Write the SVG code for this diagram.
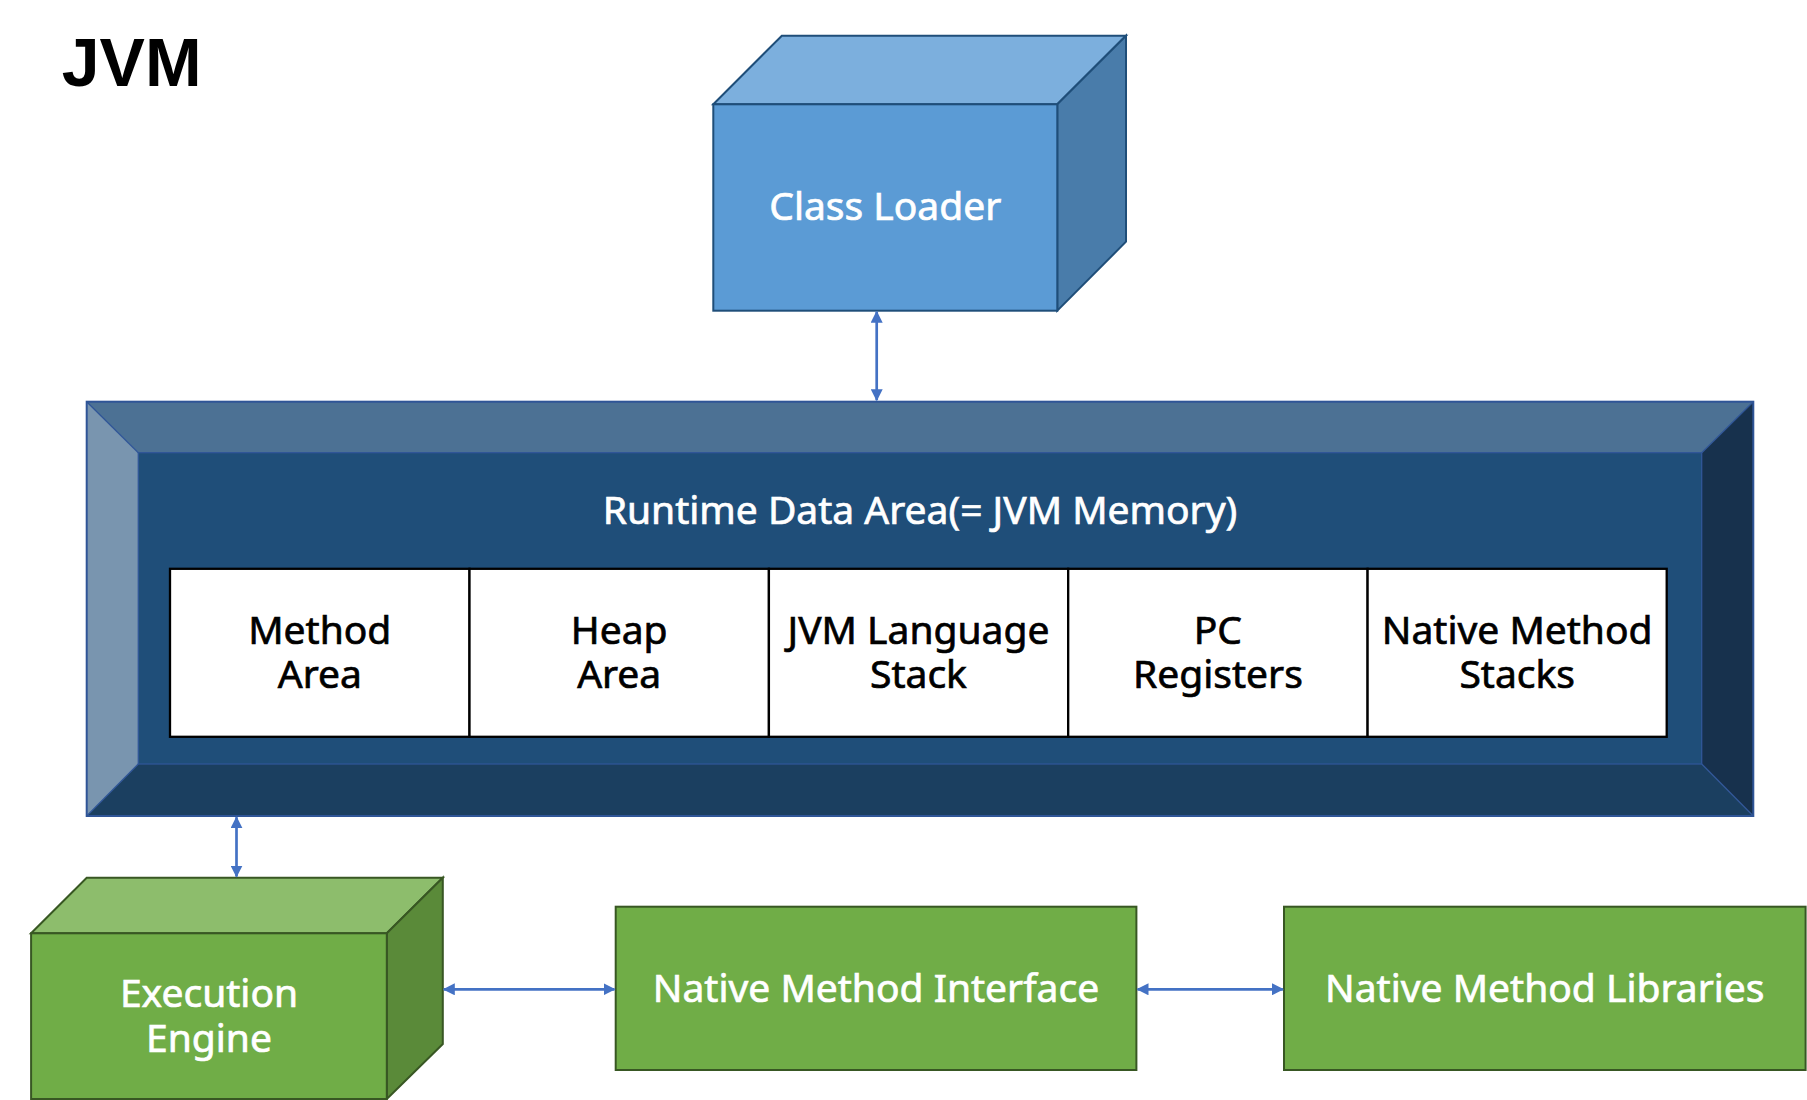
<svg xmlns="http://www.w3.org/2000/svg" width="1807" height="1100" viewBox="0 0 1807 1100">
<defs>
<style>
.t{font-family:"Noto Sans","Open Sans","Liberation Sans",sans-serif;font-size:39px;text-anchor:middle;stroke-width:0.7px}
.w{fill:#ffffff;stroke:#ffffff}
.k{fill:#000000;stroke:#000000}
.conn{stroke:#4472C4;stroke-width:2.7;fill:none;marker-start:url(#ah);marker-end:url(#ah)}
.cellbox{fill:#ffffff;stroke:#000000;stroke-width:2.3}
.bl{stroke:#1F4E79;stroke-width:2;stroke-linejoin:miter}
.gr{stroke:#385723;stroke-width:2;stroke-linejoin:miter}
.rd{stroke:#2F5597;stroke-width:1.3;stroke-linejoin:miter}
</style>
<marker id="ah" viewBox="0 0 12 12" refX="11" refY="6" markerWidth="12" markerHeight="12" markerUnits="userSpaceOnUse" orient="auto-start-reverse">
<path d="M0,0 L12,6 L0,12 Z" fill="#4472C4"/>
</marker>
</defs>
<rect width="1807" height="1100" fill="#ffffff"/>

<g id="title">
<text x="131.7" y="85.7" style="font-family:'Liberation Sans','Noto Sans',sans-serif;font-size:68px;font-weight:bold;text-anchor:middle" fill="#000000">JVM</text>
</g>

<g id="class-loader">
<polygon class="bl" points="713.3,104.3 781.8,35.7 1126,35.7 1057.3,104.3" fill="#7CAFDD"/>
<polygon class="bl" points="1057.3,104.3 1126,35.7 1126,241.7 1057.3,310.7" fill="#497CAA"/>
<rect class="bl" x="713.3" y="104.3" width="344" height="206.4" fill="#5B9BD5"/>
<text class="t w" x="885.3" y="220">Class Loader</text>
</g>

<g id="runtime-data-area">
<polygon points="86.7,401.7 1753.3,401.7 1701.7,452.7 138.3,452.7" fill="#4C7194"/>
<polygon points="86.7,401.7 138.3,452.7 138.3,764 86.7,816" fill="#7995AF"/>
<polygon points="1753.3,401.7 1753.3,816 1701.7,764 1701.7,452.7" fill="#17314D"/>
<polygon points="86.7,816 138.3,764 1701.7,764 1753.3,816" fill="#1B3F60"/>
<rect x="138.3" y="452.7" width="1563.4" height="311.3" fill="#1F4E79"/>
<g class="rd" fill="none">
<rect x="138.3" y="452.7" width="1563.4" height="311.3"/>
<line x1="86.7" y1="401.7" x2="138.3" y2="452.7"/>
<line x1="1753.3" y1="401.7" x2="1701.7" y2="452.7"/>
<line x1="86.7" y1="816" x2="138.3" y2="764"/>
<line x1="1753.3" y1="816" x2="1701.7" y2="764"/>
<rect x="86.7" y="401.7" width="1666.6" height="414.3" style="stroke-width:2"/>
</g>
<text class="t w" x="920" y="524">Runtime Data Area(= JVM Memory)</text>
</g>

<g id="method-area">
<rect class="cellbox" x="170" y="568.8" width="299.5" height="168"/>
<text class="t k" x="319.8" y="643.5">Method<tspan x="319.8" dy="44.2">Area</tspan></text>
</g>
<g id="heap-area">
<rect class="cellbox" x="469.5" y="568.8" width="299.4" height="168"/>
<text class="t k" x="619.2" y="643.5">Heap<tspan x="619.2" dy="44.2">Area</tspan></text>
</g>
<g id="jvm-language-stack">
<rect class="cellbox" x="768.9" y="568.8" width="299.3" height="168"/>
<text class="t k" x="918.5" y="643.5">JVM Language<tspan x="918.5" dy="44.2">Stack</tspan></text>
</g>
<g id="pc-registers">
<rect class="cellbox" x="1068.2" y="568.8" width="299.4" height="168"/>
<text class="t k" x="1217.9" y="643.5">PC<tspan x="1217.9" dy="44.2">Registers</tspan></text>
</g>
<g id="native-method-stacks">
<rect class="cellbox" x="1367.6" y="568.8" width="299.1" height="168"/>
<text class="t k" x="1517.2" y="643.5">Native Method<tspan x="1517.2" dy="44.2">Stacks</tspan></text>
</g>

<g id="execution-engine">
<polygon class="gr" points="31.1,933.3 86.7,877.7 442.8,877.7 386.8,933.3" fill="#8DBD6C"/>
<polygon class="gr" points="386.8,933.3 442.8,877.7 442.8,1044 386.8,1099" fill="#5A8A39"/>
<rect class="gr" x="31.1" y="933.3" width="355.7" height="165.7" fill="#70AD47"/>
<text class="t w" x="209" y="1006.7">Execution<tspan x="209" dy="45">Engine</tspan></text>
</g>

<g id="native-method-interface">
<rect class="gr" x="615.7" y="906.7" width="520.7" height="163.3" fill="#70AD47"/>
<text class="t w" x="876" y="1001.7">Native Method Interface</text>
</g>

<g id="native-method-libraries">
<rect class="gr" x="1284" y="906.7" width="521.6" height="163.3" fill="#70AD47"/>
<text class="t w" x="1544.8" y="1001.7">Native Method Libraries</text>
</g>

<g id="connectors">
<line class="conn" x1="876.7" y1="311.7" x2="876.7" y2="400.2"/>
<line class="conn" x1="236.5" y1="817.2" x2="236.5" y2="876.6"/>
<line class="conn" x1="443.8" y1="989.3" x2="614.5" y2="989.3"/>
<line class="conn" x1="1137.5" y1="989.3" x2="1282.9" y2="989.3"/>
</g>
</svg>
